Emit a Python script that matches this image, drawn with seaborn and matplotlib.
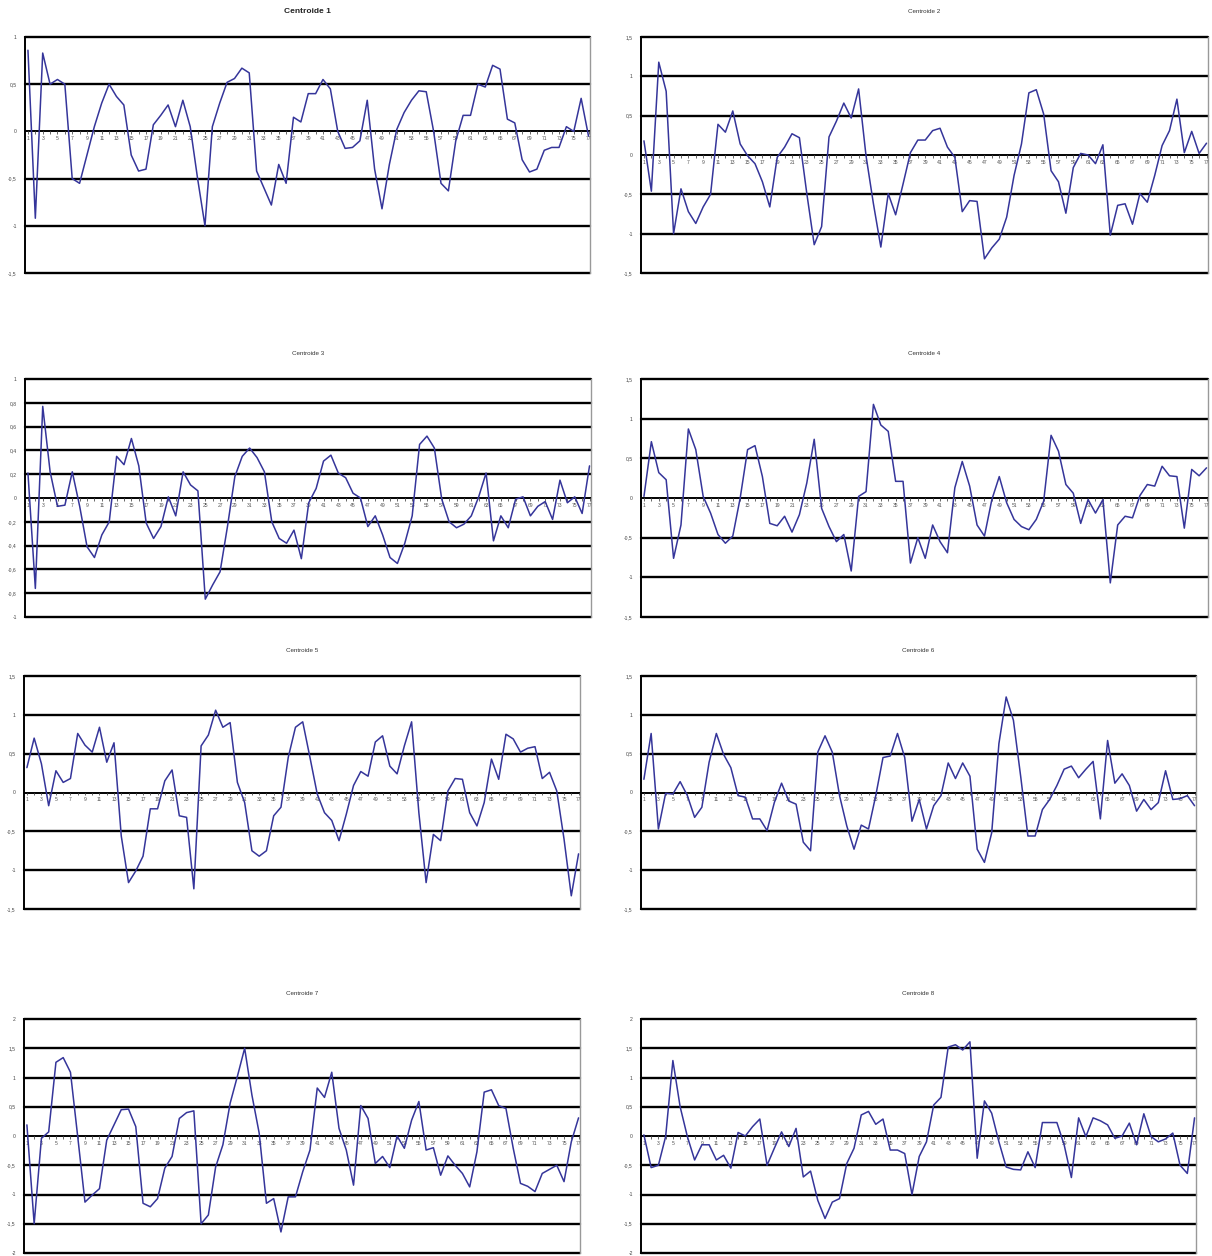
import matplotlib
matplotlib.use("Agg")
import matplotlib.pyplot as plt
import seaborn as sns
import numpy as np

sns.set_style("white")
plt.rcParams['font.family'] = ['Liberation Sans', 'DejaVu Sans']

x_index = list(range(1, 78))
x_labels = [str(i) for i in range(1, 78, 2)]

titles = ["Centroide 1", "Centroide 2", "Centroide 3", "Centroide 4",
          "Centroide 5", "Centroide 6", "Centroide 7", "Centroide 8"]

centroide_1 = [0.86, -0.92, 0.83, 0.50, 0.55, 0.50, -0.50, -0.55, -0.25, 0.05,
               0.30, 0.50, 0.37, 0.28, -0.25, -0.42, -0.40, 0.07, 0.17, 0.28,
               0.05, 0.33, 0.05, -0.50, -1.00, 0.05, 0.30, 0.52, 0.56, 0.67,
               0.62, -0.42, -0.60, -0.78, -0.35, -0.55, 0.15, 0.10, 0.40, 0.40,
               0.55, 0.45, 0.00, -0.18, -0.17, -0.10, 0.33, -0.40, -0.82, -0.35,
               0.02, 0.20, 0.33, 0.43, 0.42, 0.00, -0.55, -0.63, -0.10, 0.17,
               0.17, 0.50, 0.47, 0.70, 0.66, 0.13, 0.09, -0.30, -0.43, -0.40,
               -0.20, -0.17, -0.17, 0.05, 0.00, 0.35, -0.05]
centroide_2 = [0.18, -0.46, 1.18, 0.81, -1.00, -0.43, -0.72, -0.87, -0.66, -0.50,
               0.39, 0.29, 0.56, 0.14, -0.01, -0.11, -0.34, -0.66, -0.03, 0.10,
               0.27, 0.22, -0.49, -1.14, -0.91, 0.23, 0.43, 0.66, 0.47, 0.84,
               -0.01, -0.62, -1.17, -0.49, -0.76, -0.37, 0.03, 0.19, 0.19, 0.31,
               0.34, 0.10, -0.03, -0.72, -0.58, -0.59, -1.32, -1.18, -1.07, -0.79,
               -0.26, 0.14, 0.79, 0.83, 0.52, -0.20, -0.34, -0.74, -0.16, 0.02,
               0.00, -0.11, 0.13, -1.02, -0.64, -0.62, -0.88, -0.49, -0.60, -0.26,
               0.12, 0.31, 0.71, 0.03, 0.30, 0.02, 0.15]
centroide_3 = [0.21, -0.76, 0.77, 0.22, -0.07, -0.06, 0.22, -0.07, -0.41, -0.50,
               -0.31, -0.20, 0.35, 0.28, 0.50, 0.27, -0.21, -0.34, -0.24, 0.01,
               -0.15, 0.22, 0.11, 0.06, -0.85, -0.73, -0.62, -0.24, 0.18, 0.35,
               0.42, 0.34, 0.22, -0.20, -0.34, -0.38, -0.27, -0.51, -0.04, 0.08,
               0.31, 0.36, 0.21, 0.17, 0.04, 0.00, -0.24, -0.15, -0.31, -0.50,
               -0.55, -0.38, -0.15, 0.45, 0.52, 0.42, -0.01, -0.20, -0.25, -0.22,
               -0.15, 0.01, 0.21, -0.36, -0.15, -0.25, -0.01, 0.01, -0.15, -0.07,
               -0.03, -0.18, 0.15, -0.04, 0.01, -0.13, 0.27]
centroide_4 = [0.02, 0.71, 0.32, 0.23, -0.76, -0.34, 0.87, 0.61, 0.02, -0.19,
               -0.46, -0.57, -0.48, 0.00, 0.61, 0.66, 0.27, -0.32, -0.35, -0.23,
               -0.43, -0.21, 0.19, 0.74, -0.13, -0.36, -0.55, -0.46, -0.92, 0.02,
               0.08, 1.18, 0.92, 0.84, 0.21, 0.21, -0.82, -0.50, -0.76, -0.34,
               -0.55, -0.69, 0.13, 0.46, 0.15, -0.34, -0.48, -0.02, 0.27, -0.06,
               -0.27, -0.36, -0.40, -0.27, -0.04, 0.79, 0.59, 0.17, 0.06, -0.32,
               -0.02, -0.19, -0.02, -1.07, -0.34, -0.23, -0.25, 0.03, 0.17, 0.15,
               0.40, 0.28, 0.27, -0.38, 0.36, 0.28, 0.38]
centroide_5 = [0.32, 0.70, 0.37, -0.17, 0.28, 0.13, 0.18, 0.76, 0.61, 0.52,
               0.84, 0.39, 0.64, -0.56, -1.16, -1.01, -0.82, -0.21, -0.21, 0.15,
               0.29, -0.30, -0.32, -1.24, 0.60, 0.74, 1.06, 0.84, 0.90, 0.13,
               -0.13, -0.75, -0.82, -0.75, -0.30, -0.19, 0.45, 0.84, 0.91, 0.45,
               -0.02, -0.26, -0.36, -0.62, -0.28, 0.09, 0.27, 0.21, 0.65, 0.73,
               0.34, 0.24, 0.60, 0.91, -0.26, -1.16, -0.54, -0.62, 0.02, 0.18,
               0.17, -0.26, -0.43, -0.13, 0.43, 0.17, 0.75, 0.69, 0.52, 0.57,
               0.59, 0.18, 0.26, 0.02, -0.60, -1.33, -0.79]
centroide_6 = [0.17, 0.76, -0.47, -0.01, -0.02, 0.14, -0.04, -0.32, -0.19, 0.39,
               0.76, 0.49, 0.32, -0.04, -0.06, -0.34, -0.34, -0.49, -0.13, 0.12,
               -0.11, -0.15, -0.64, -0.75, 0.52, 0.73, 0.52, -0.04, -0.43, -0.73,
               -0.42, -0.47, -0.04, 0.45, 0.47, 0.76, 0.45, -0.37, -0.09, -0.47,
               -0.17, -0.04, 0.38, 0.18, 0.38, 0.21, -0.73, -0.90, -0.52, 0.63,
               1.23, 0.93, 0.21, -0.56, -0.56, -0.22, -0.09, 0.09, 0.30, 0.34,
               0.19, 0.30, 0.40, -0.34, 0.67, 0.12, 0.24, 0.09, -0.24, -0.09,
               -0.22, -0.13, 0.28, -0.09, -0.08, -0.04, -0.17]
centroide_7 = [0.19, -1.50, -0.04, 0.07, 1.26, 1.34, 1.09, -0.01, -1.13, -1.01,
               -0.90, -0.07, 0.19, 0.45, 0.46, 0.16, -1.15, -1.21, -1.07, -0.55,
               -0.35, 0.30, 0.40, 0.43, -1.50, -1.35, -0.53, -0.15, 0.56, 1.02,
               1.50, 0.70, 0.05, -1.15, -1.07, -1.64, -1.04, -1.04, -0.61, -0.24,
               0.82, 0.66, 1.09, 0.13, -0.24, -0.84, 0.52, 0.30, -0.47, -0.35,
               -0.54, 0.00, -0.21, 0.27, 0.59, -0.24, -0.20, -0.67, -0.34, -0.50,
               -0.64, -0.87, -0.27, 0.75, 0.79, 0.52, 0.47, -0.21, -0.81, -0.86,
               -0.95, -0.64, -0.57, -0.50, -0.78, -0.10, 0.31]
centroide_8 = [0.02, -0.54, -0.50, -0.01, 1.29, 0.50, -0.01, -0.41, -0.15, -0.15,
               -0.41, -0.33, -0.55, 0.06, 0.00, 0.16, 0.29, -0.50, -0.21, 0.07,
               -0.18, 0.13, -0.70, -0.60, -1.10, -1.41, -1.13, -1.07, -0.47, -0.21,
               0.36, 0.42, 0.20, 0.29, -0.24, -0.24, -0.30, -1.00, -0.35, -0.10,
               0.53, 0.66, 1.52, 1.56, 1.47, 1.61, -0.38, 0.60, 0.39, -0.10,
               -0.53, -0.57, -0.58, -0.27, -0.54, 0.23, 0.23, 0.23, -0.15, -0.71,
               0.31, -0.01, 0.31, 0.26, 0.19, -0.04, 0.00, 0.22, -0.15, 0.38,
               -0.01, -0.10, -0.05, 0.05, -0.50, -0.64, 0.31]

series = [centroide_1, centroide_2, centroide_3, centroide_4,
          centroide_5, centroide_6, centroide_7, centroide_8]

yticks_1 = [-1.5, -1.0, -0.5, 0.0, 0.5, 1.0]
yticks_15 = [-1.5, -1.0, -0.5, 0.0, 0.5, 1.0, 1.5]
yticks_3 = [-1.0, -0.8, -0.6, -0.4, -0.2, 0.0, 0.2, 0.4, 0.6, 0.8, 1.0]
yticks_2 = [-2.0, -1.5, -1.0, -0.5, 0.0, 0.5, 1.0, 1.5, 2.0]
yticks_all = [yticks_1, yticks_15, yticks_3, yticks_15,
              yticks_15, yticks_15, yticks_2, yticks_2]

# plot-area boxes in pixels: left, right, top, bottom
W, H = 1212, 1256
boxes = [(25, 590, 37, 273), (641, 1208, 37, 273),
         (25, 591, 379, 617), (641, 1208, 379, 617),
         (24, 580, 676, 909), (641, 1196, 676, 909),
         (24, 580, 1019, 1253), (641, 1196, 1019, 1253)]

line_color = "#35359A"

def fmt(v):
    if abs(v - round(v)) < 1e-9:
        return str(int(round(v)))
    return ("%.1f" % v).replace(".", ",")

fig = plt.figure(figsize=(W / 100, H / 100), dpi=100)
fig.patch.set_facecolor("white")

for k in range(8):
    l, r, t, b = boxes[k]
    ax = fig.add_axes([l / W, 1 - b / H, (r - l) / W, (b - t) / H])
    yt = yticks_all[k]
    sns.lineplot(x=x_index, y=series[k], ax=ax, color=line_color, lw=1.1, zorder=5)
    ax.set_xlim(0.6, 77.2)
    ax.set_ylim(yt[0], yt[-1])
    for v in yt:
        if abs(v) < 1e-9:
            continue
        ax.axhline(v, color="black", lw=1.7, zorder=2, clip_on=False)
    ax.axhline(0, color="black", lw=1.4, zorder=3)
    # zero axis tick marks (dashed look)
    ax.vlines(x_index, -0.012 * (yt[-1] - yt[0]), 0, color="#666666", lw=0.7, zorder=3)
    for i in range(1, 78, 2):
        ax.text(i, -0.02 * (yt[-1] - yt[0]), str(i), ha="center", va="top",
                fontsize=3.6, color="#555555", zorder=4)
    ax.set_xticks([])
    ax.set_yticks(yt)
    ax.set_yticklabels([fmt(v) for v in yt], fontsize=3.6, color="#444444")
    ax.tick_params(axis="y", length=2, width=0.6, pad=4, color="#888888")
    for s in ["top", "bottom"]:
        ax.spines[s].set_visible(False)
    ax.spines["left"].set_color("black")
    ax.spines["left"].set_linewidth(1.4)
    ax.spines["right"].set_color("#999999")
    ax.spines["right"].set_linewidth(1.0)
    ax.set_xlabel("")
    ax.set_ylabel("")
    if k == 0:
        ax.set_title(titles[k], fontsize=6.0, fontweight="bold", pad=17, color="#222222")
    else:
        ax.set_title(titles[k], fontsize=4.5, pad=17, color="#333333")

fig.savefig("out.png", dpi=100, facecolor="white")
